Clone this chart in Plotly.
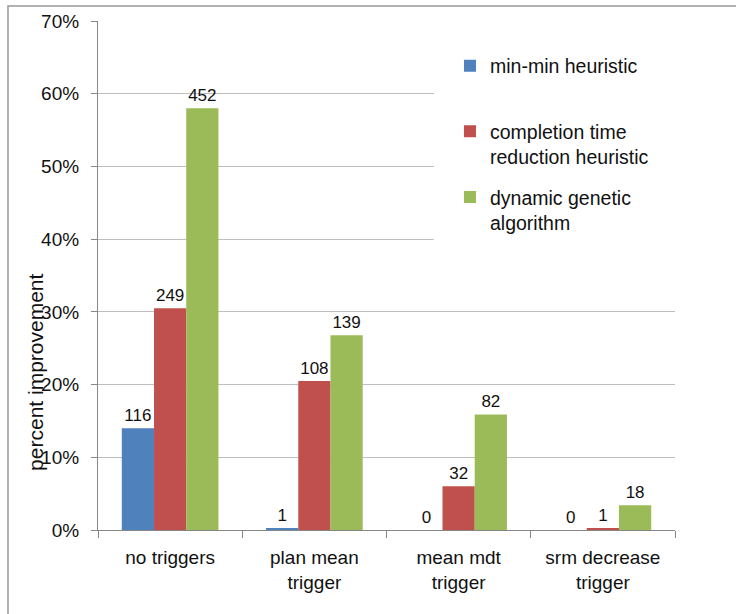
import plotly.graph_objects as go

categories = ["no triggers", "plan mean<br>trigger", "mean mdt<br>trigger", "srm decrease<br>trigger"]
series_names = ["min-min heuristic<br> ", "completion time<br>reduction heuristic", "dynamic genetic<br>algorithm"]
minmin = [14.0, 0.2, 0.0, 0.0]
ctr = [30.5, 20.5, 6.0, 0.2]
dga = [58.0, 26.8, 15.9, 3.4]
minmin_labels = ["116", "1", "0", "0"]
ctr_labels = ["249", "108", "32", "1"]
dga_labels = ["452", "139", "82", "18"]
colors = ["#4F81BD", "#C0504D", "#9BBB59"]
yticks = [0, 10, 20, 30, 40, 50, 60, 70]
ytick_text = ["0%", "10%", "20%", "30%", "40%", "50%", "60%", "70%"]

FONT = "Liberation Sans, Arial, sans-serif"

fig = go.Figure()
for name, vals, labs, col, grp in zip(series_names, [minmin, ctr, dga],
                                      [minmin_labels, ctr_labels, dga_labels], colors, ["a", "b", "c"]):
    fig.add_trace(go.Bar(
        x=categories, y=vals, name=name, text=labs, textposition="outside",
        textfont=dict(size=17, color="#111", family=FONT),
        marker=dict(color=col, line=dict(width=0)),
        cliponaxis=False, legendgroup=grp,
    ))

fig.update_layout(
    width=736, height=614,
    margin=dict(l=98, r=61, t=21, b=84),
    paper_bgcolor="white", plot_bgcolor="white",
    barmode="group", bargap=0.33, bargroupgap=0,
    font=dict(family=FONT, size=19, color="#111"),
    showlegend=True,
    legend=dict(x=0.61, y=0.95, xanchor="left", yanchor="top",
                bgcolor="rgba(0,0,0,0)", font=dict(size=19.5, family=FONT),
                valign="top", tracegroupgap=12, traceorder="grouped"),
    xaxis=dict(showline=True, linecolor="#868686", linewidth=1.2,
               ticks="outside", ticklen=7, tickcolor="#868686", tickson="boundaries",
               tickfont=dict(size=19), showgrid=False, ticklabelstandoff=10),
    yaxis=dict(range=[0, 70], tickvals=yticks, ticktext=ytick_text, showline=True,
               linecolor="#868686", linewidth=1.2, ticks="outside", ticklen=6,
               tickcolor="#868686", showgrid=True, gridcolor="#BEBEBE", gridwidth=1.2,
               zeroline=False, tickfont=dict(size=19), ticklabelstandoff=8),
    annotations=[dict(text="percent improvement", xref="paper", yref="paper",
                      x=-0.108, y=0.31, xanchor="center", yanchor="middle",
                      textangle=-90, showarrow=False,
                      font=dict(size=21, family=FONT, color="#111"))],
    shapes=[
        dict(type="rect", xref="paper", yref="y", x0=0.582, x1=1.0, y0=35, y1=68,
             fillcolor="white", line=dict(width=0), layer="above"),
        dict(type="rect", xref="paper", yref="paper", x0=-0.156, x1=1.3, y0=1.0295, y1=-0.3,
             fillcolor="rgba(0,0,0,0)", line=dict(color="#999999", width=1.5), layer="above"),
    ],
)

fig.write_html("out.html")
